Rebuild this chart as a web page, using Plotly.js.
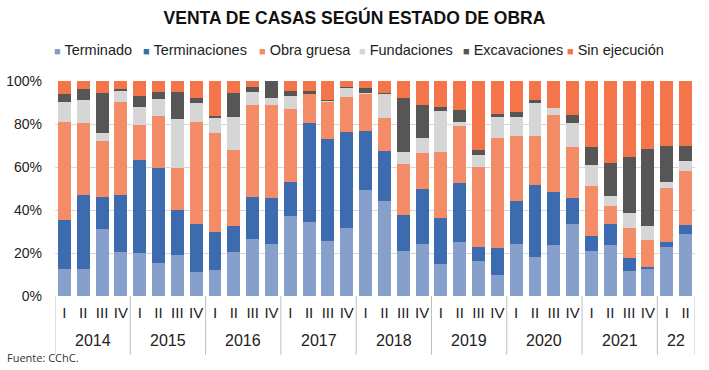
<!DOCTYPE html>
<html>
<head>
<meta charset="utf-8">
<script src="https://cdn.plot.ly/plotly-3.0.1.min.js"></script>
<style>html,body{margin:0;padding:0;background:#fff;}#chart{width:709px;height:370px;}</style>
</head>
<body>
<div id="chart"></div>
<script>
const years = ["2014","2014","2014","2014","2015","2015","2015","2015","2016","2016","2016","2016","2017","2017","2017","2017","2018","2018","2018","2018","2019","2019","2019","2019","2020","2020","2020","2020","2021","2021","2021","2021","22","22"];
const quarters = ["I","II","III","IV","I","II","III","IV","I","II","III","IV","I","II","III","IV","I","II","III","IV","I","II","III","IV","I","II","III","IV","I","II","III","IV","I","II"];
const yearLabels = ["2014","2015","2016","2017","2018","2019","2020","2021","22"];

const terminado      = [12.7,12.7,31.2,20.5,20.2,15.5,19.1,11.3,12.1,20.6,26.4,24.0,37.4,34.3,25.6,31.5,49.5,44.2,20.9,24.0,14.9,25.3,16.3,9.8,24.0,18.3,23.9,33.3,20.9,23.7,11.8,12.6,22.9,28.8];
const terminaciones  = [22.6,34.1,14.8,26.6,43.1,43.9,20.9,22.2,17.5,12.1,19.8,21.7,15.8,46.0,47.3,44.8,27.2,23.2,16.8,25.8,21.5,27.1,6.3,12.4,20.2,33.3,24.3,12.4,7.2,9.6,5.7,1.0,2.1,4.2];
const obraGruesa     = [45.8,33.8,26.1,43.3,16.2,24.3,19.7,47.3,46.1,35.1,42.6,43.1,33.8,13.5,17.5,16.1,17.1,15.5,23.9,16.9,30.6,26.8,37.6,51.4,30.2,22.8,36.0,23.8,23.1,8.6,14.3,12.4,25.4,25.3];
const fundaciones    = [9.0,10.6,3.6,5.1,8.6,7.9,22.5,9.1,7.2,15.5,5.9,3.1,6.0,0.3,0.3,4.5,0.8,11.1,5.4,6.6,19.2,1.9,5.4,9.8,8.7,15.2,3.1,10.8,9.7,4.8,7.0,6.6,2.8,4.5];
const excavaciones   = [3.9,5.1,18.9,0.8,4.9,3.4,12.5,2.3,1.0,11.3,2.4,8.1,2.3,1.4,0.5,0.5,2.0,0.6,24.9,15.4,1.9,5.4,2.3,1.3,2.3,1.6,0.3,3.9,8.6,15.0,26.0,35.6,16.7,7.1];
const sinEjecucion   = [6.0,3.7,5.4,3.7,7.0,5.0,5.3,7.8,16.1,5.4,2.9,0.0,4.7,4.5,8.8,2.6,3.4,5.4,8.1,11.3,11.9,13.5,32.1,15.3,14.6,8.8,12.4,15.8,30.5,38.3,35.2,31.8,30.1,30.1];

const seriesNames  = ["Terminado","Terminaciones","Obra gruesa","Fundaciones","Excavaciones","Sin ejecución"];
const seriesValues = [terminado, terminaciones, obraGruesa, fundaciones, excavaciones, sinEjecucion];
const seriesColors = ["#869fcb","#3c6caf","#f48d67","#d6d6d6","#565656","#f4754a"];

// unique category keys (year + quarter), shown with quarter tick text
const keys = years.map((y,i)=>y+"-"+quarters[i]);

const traces = seriesNames.map((n,i)=>({
  type:"bar",
  name:n,
  x:keys,
  y:seriesValues[i].map(v=>v/100),
  marker:{color:seriesColors[i], line:{width:0}},
  hoverinfo:"skip"
}));

const font = "'Liberation Sans',Arial,sans-serif";

// legend drawn as text annotations (paper coords)
const legendX = [-0.005, 0.134, 0.316, 0.472, 0.635, 0.797];
const legendAnn = seriesNames.map((n,i)=>({
  text:"<span style='color:"+seriesColors[i]+";font-size:11px'>■</span> "+n,
  xref:"paper", yref:"paper", x:legendX[i], y:1.144, xanchor:"left", yanchor:"middle",
  showarrow:false, font:{family:font, size:14.5, color:"#222"}
}));

// year group labels and dividers, positioned by category index
const yearAnn = [];
const dividers = [];
yearLabels.forEach(yl=>{
  const idx = years.map((y,i)=>y===yl?i:-1).filter(i=>i>=0);
  const first = idx[0], last = idx[idx.length-1];
  yearAnn.push({text:yl, xref:"x", yref:"paper", x:(first+last)/2, y:-0.205, xanchor:"center", yanchor:"middle", showarrow:false, font:{family:font,size:16,color:"#222"}});
  dividers.push({type:"line", xref:"x", yref:"paper", x0:first-0.5, x1:first-0.5, y0:0, y1:-0.274, line:{color:"#bfbfbf", width:1}});
  if (last===years.length-1) dividers.push({type:"line", xref:"x", yref:"paper", x0:last+0.5, x1:last+0.5, y0:0, y1:-0.274, line:{color:"#bfbfbf", width:1}});
});

const layout = {
  width:709, height:370,
  barmode:"stack",
  bargap:0.31,
  margin:{l:55,r:14,t:81,b:74},
  paper_bgcolor:"#fff", plot_bgcolor:"#fff",
  font:{family:font, color:"#222", size:14},
  title:{text:"<b>VENTA DE CASAS SEGÚN ESTADO DE OBRA</b>", x:0.5, xanchor:"center", y:0.952, yanchor:"middle", font:{family:font, size:17.5, color:"#111"}},
  showlegend:false,
  xaxis:{type:"category", tickmode:"array", tickvals:keys, ticktext:quarters, tickangle:0, ticklabelstandoff:6, tickfont:{family:font,size:15,color:"#222"}, showgrid:false, showline:false, ticks:"", zeroline:false, range:[-0.5, keys.length-0.5]},
  yaxis:{range:[0,1], dtick:0.2, tickformat:".0%", showgrid:true, gridcolor:"#d9d9d9", gridwidth:1, zeroline:false, showline:false, ticks:"", tickfont:{family:font,size:14,color:"#222"}, ticklabelstandoff:12},
  shapes:dividers,
  annotations:legendAnn.concat(yearAnn, [{text:"Fuente: CChC.", xref:"paper", yref:"paper", x:-0.078, y:-0.284, xanchor:"left", yanchor:"middle", showarrow:false, font:{family:"'Open Sans',sans-serif", size:11, color:"#333"}}])
};

Plotly.newPlot("chart", traces, layout, {displayModeBar:false, staticPlot:true});
</script>
</body>
</html>
